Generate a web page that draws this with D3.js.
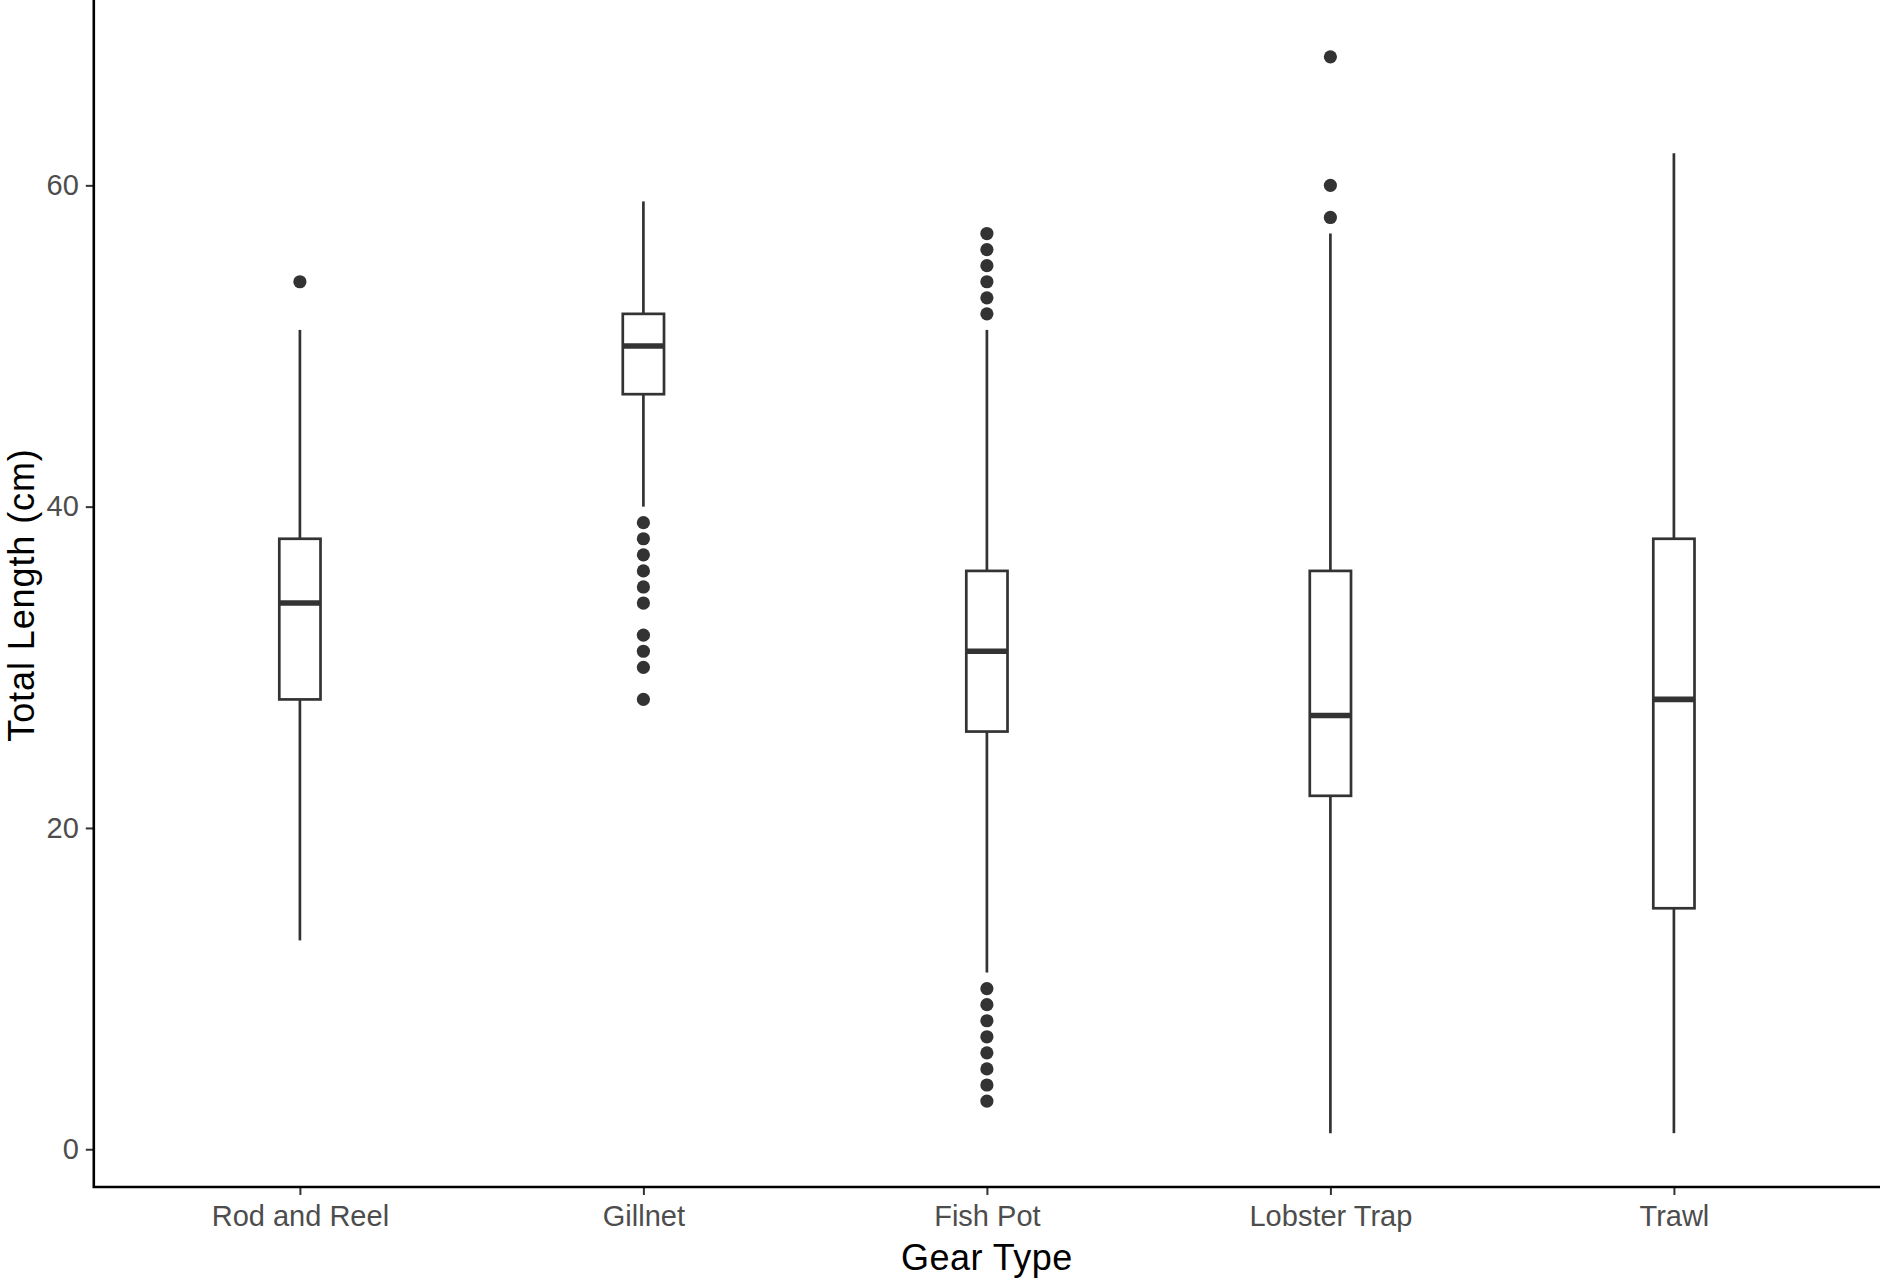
<!DOCTYPE html>
<html>
<head>
<meta charset="utf-8">
<script src="https://cdn.jsdelivr.net/npm/d3@7/dist/d3.min.js"></script>
<style>
  html, body { margin: 0; padding: 0; background: #ffffff; }
  svg { display: block; }
</style>
</head>
<body>
<svg id="chart" width="1880" height="1280"></svg>
<script>
// ---- data ----
const categories = ["Rod and Reel", "Gillnet", "Fish Pot", "Lobster Trap", "Trawl"];
const whiskerLow = [13, 40, 11, 1, 1];
const q1 = [28, 47, 26, 22, 15];
const medians = [34, 50, 31, 27, 28];
const q3 = [38, 52, 36, 36, 38];
const whiskerHigh = [51, 59, 51, 57, 62];
const outliers = [
  [54],
  [39, 38, 37, 36, 35, 34, 32, 31, 30, 28],
  [57, 56, 55, 54, 53, 52, 10, 9, 8, 7, 6, 5, 4, 3],
  [68, 60, 58],
  []
];
const yTicks = [0, 20, 40, 60];
const xTitle = "Gear Type";
const yTitle = "Total Length (cm)";

// ---- layout ----
const W = 1880, H = 1280;
const panel = { left: 93.8, right: 1880, top: 3, bottom: 1187 };
const boxWidthFrac = 0.12;
const ink = "#333333";
const font = "'Liberation Sans', Arial, sans-serif";

const svg = d3.select("#chart");

const boxes = categories.map((c, i) => ({
  cat: c, lo: whiskerLow[i], q1: q1[i], med: medians[i], q3: q3[i], hi: whiskerHigh[i], out: outliers[i]
}));

// y domain with ggplot-like 5% expansion
const allVals = boxes.flatMap(b => [b.lo, b.hi, ...b.out]);
const yMin = d3.min(allVals), yMax = d3.max(allVals);
const pad = (yMax - yMin) * 0.05;
const y = d3.scaleLinear().domain([yMin - pad, yMax + pad]).range([panel.bottom, panel.top]);
const x = d3.scalePoint().domain(categories).range([panel.left, panel.right]).padding(0.6);
const bw = x.step() * boxWidthFrac;

const g = svg.append("g");

// whiskers
g.selectAll("line.whisk-up").data(boxes).join("line")
  .attr("x1", d => x(d.cat)).attr("x2", d => x(d.cat))
  .attr("y1", d => y(d.q3)).attr("y2", d => y(d.hi))
  .attr("stroke", ink).attr("stroke-width", 2.7);
g.selectAll("line.whisk-dn").data(boxes).join("line")
  .attr("x1", d => x(d.cat)).attr("x2", d => x(d.cat))
  .attr("y1", d => y(d.q1)).attr("y2", d => y(d.lo))
  .attr("stroke", ink).attr("stroke-width", 2.7);

// boxes
g.selectAll("rect.box").data(boxes).join("rect")
  .attr("x", d => x(d.cat) - bw / 2)
  .attr("width", bw)
  .attr("y", d => y(d.q3))
  .attr("height", d => y(d.q1) - y(d.q3))
  .attr("fill", "#ffffff").attr("stroke", ink).attr("stroke-width", 2.7);

// medians
g.selectAll("line.med").data(boxes).join("line")
  .attr("x1", d => x(d.cat) - bw / 2).attr("x2", d => x(d.cat) + bw / 2)
  .attr("y1", d => y(d.med)).attr("y2", d => y(d.med))
  .attr("stroke", ink).attr("stroke-width", 5.6);

// outliers
const outPts = boxes.flatMap(b => b.out.map(v => ({ cat: b.cat, v })));
g.selectAll("circle.out").data(outPts).join("circle")
  .attr("cx", d => x(d.cat)).attr("cy", d => y(d.v))
  .attr("r", 6.6).attr("fill", ink);

// axes
const yAxis = d3.axisLeft(y).tickValues(yTicks).tickSize(8).tickPadding(7).tickFormat(d3.format("d"));
const xAxis = d3.axisBottom(x).tickSize(8).tickPadding(10);

const ya = svg.append("g").attr("transform", `translate(${panel.left},0)`).call(yAxis);
ya.select(".domain").remove();
ya.selectAll(".tick line").attr("stroke", ink).attr("stroke-width", 2);
ya.selectAll(".tick text").attr("fill", "#4d4d4d")
  .style("font-family", font).style("font-size", "29px");

const xa = svg.append("g").attr("transform", `translate(0,${panel.bottom})`).call(xAxis);
xa.select(".domain").remove();
xa.selectAll(".tick line").attr("stroke", ink).attr("stroke-width", 2);
xa.selectAll(".tick text").attr("fill", "#4d4d4d")
  .style("font-family", font).style("font-size", "29px");

// axis lines
svg.append("path")
  .attr("d", `M${panel.left},${panel.top - 3}V${panel.bottom}H${panel.right}`)
  .attr("fill", "none").attr("stroke", "#000000").attr("stroke-width", 2.6);

// titles
svg.append("text")
  .attr("x", (panel.left + panel.right) / 2).attr("y", 1270)
  .attr("text-anchor", "middle")
  .style("font-family", font).style("font-size", "36px").style("letter-spacing", "0.5px")
  .attr("fill", "#000000").text(xTitle);

svg.append("text")
  .attr("transform", `translate(33.5,${(panel.top + panel.bottom) / 2}) rotate(-90)`)
  .attr("text-anchor", "middle")
  .style("font-family", font).style("font-size", "36px").style("letter-spacing", "0.9px")
  .attr("fill", "#000000").text(yTitle);
</script>
</body>
</html>
